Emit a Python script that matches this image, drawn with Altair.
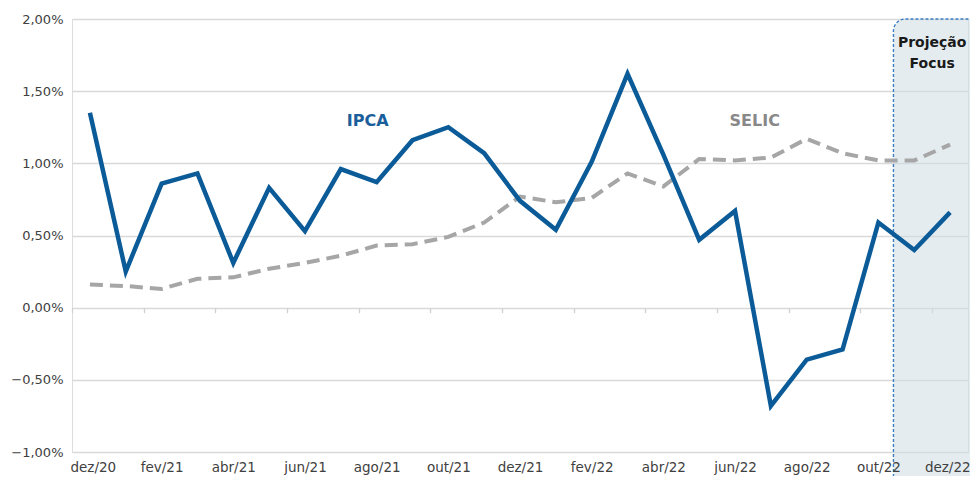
import altair as alt
import pandas as pd

months = ["dez/20", "jan/21", "fev/21", "mar/21", "abr/21", "mai/21", "jun/21",
          "jul/21", "ago/21", "set/21", "out/21", "nov/21", "dez/21", "jan/22",
          "fev/22", "mar/22", "abr/22", "mai/22", "jun/22", "jul/22", "ago/22",
          "set/22", "out/22", "nov/22", "dez/22"]
ipca = [1.35, 0.25, 0.86, 0.93, 0.31, 0.83, 0.53, 0.96, 0.87, 1.16, 1.25, 1.07,
        0.74, 0.54, 1.01, 1.62, 1.06, 0.47, 0.67, -0.68, -0.36, -0.29, 0.59,
        0.40, 0.66]
selic = [0.16, 0.15, 0.13, 0.20, 0.21, 0.27, 0.31, 0.36, 0.43, 0.44, 0.49, 0.59,
         0.77, 0.73, 0.76, 0.93, 0.84, 1.03, 1.02, 1.04, 1.17, 1.07, 1.02,
         1.02, 1.13]
y_ticks = [-1.0, -0.5, 0.0, 0.5, 1.0, 1.5, 2.0]

W, H = 896, 433

df = pd.DataFrame({"i": list(range(len(months))), "m": months,
                   "ipca": ipca, "selic": selic})
df_ipca = df.rename(columns={"ipca": "v"})
df_selic = df.rename(columns={"selic": "v"})

xscale = alt.Scale(domain=[-0.5, len(months) - 0.5], nice=False, zero=False)
yscale = alt.Scale(domain=[-1.0, 2.0], nice=False, zero=False)

yaxis = alt.Axis(values=y_ticks, grid=True, gridColor="#d9d9d9", gridWidth=1.3,
                 ticks=False, domain=False, title=None, labelPadding=9,
                 labelFontSize=13, labelColor="#404040", labelFont="DejaVu Sans",
                 labelExpr="replace(format(datum.value, '.2f'), '.', ',') + '%'")

label_js = "[" + ",".join("'%s'" % m for m in months) + "][datum.value]"
xaxis_labels = alt.Axis(orient="bottom", values=list(range(0, len(months), 2)),
                        labelExpr=label_js, zindex=2,
                        ticks=False, grid=False, domain=False, title=None,
                        labelFlush=20, labelFlushOffset=20,
                        labelPadding=8, labelFontSize=13.5,
                        labelColor="#404040", labelFont="DejaVu Sans",
                        labelOverlap=False)
xaxis_ticks = alt.Axis(orient="bottom",
                       values=[i - 0.5 for i in range(0, len(months), 2)],
                       labels=False, ticks=True, tickSize=5, tickColor="#d0d0d0",
                       tickWidth=1.3, grid=False, domain=False, title=None,
                       offset=-H / 3.0)

# projection box (Focus) from the boundary between out/22 and nov/22
box = pd.DataFrame({"x": [len(months) - 2.58], "x2": [len(months) - 0.1],
                    "v": [2.0], "v2": [-1.25]})
box_layer = alt.Chart(box).mark_rect(
    cornerRadius=12, fill="#cedce4", fillOpacity=0.55, stroke="#3a7dc0",
    strokeWidth=1.4, strokeDash=[3, 2], clip=False
).encode(
    x=alt.X("x:Q", scale=xscale, axis=xaxis_ticks),
    x2="x2:Q",
    y=alt.Y("v:Q", scale=yscale, axis=yaxis),
    y2="v2:Q",
)

selic_layer = alt.Chart(df_selic).mark_line(
    color="#a6a6a6", strokeWidth=4, strokeDash=[13, 7]
).encode(
    x=alt.X("i:Q", scale=xscale, axis=None),
    y=alt.Y("v:Q", scale=yscale, axis=yaxis),
)

ipca_layer = alt.Chart(df_ipca).mark_line(
    color="#0b5b98", strokeWidth=4.5
).encode(
    x=alt.X("i:Q", scale=xscale, axis=xaxis_labels),
    y=alt.Y("v:Q", scale=yscale, axis=yaxis),
)

ann = pd.DataFrame({
    "t": ["IPCA", "SELIC"],
    "x": [7.75, 18.55],
    "v": [1.29, 1.29],
    "c": ["#1b5e9c", "#888888"],
})
ann_layer = alt.Chart(ann).mark_text(
    font="DejaVu Sans", fontWeight="bold", fontSize=16, baseline="middle",
    align="center"
).encode(
    x=alt.X("x:Q", scale=xscale, axis=None),
    y=alt.Y("v:Q", scale=yscale, axis=yaxis),
    text="t:N",
    color=alt.Color("c:N", scale=None),
)

focus = pd.DataFrame({"t": [["Projeção", "Focus"]], "x": [23.5], "v": [1.835]})
focus_layer = alt.Chart(focus).mark_text(
    font="DejaVu Sans", fontWeight="bold", fontSize=14, lineHeight=21,
    baseline="middle", align="center", color="#1a1a1a", clip=False
).encode(
    x=alt.X("x:Q", scale=xscale, axis=None),
    y=alt.Y("v:Q", scale=yscale, axis=yaxis),
    text="t",
)

chart = alt.layer(
    box_layer, selic_layer, ipca_layer, ann_layer, focus_layer
).resolve_axis(x="independent").properties(
    width=W, height=H,
    autosize=alt.AutoSizeParams(type="none"),
    padding={"left": 64, "top": 11, "right": 2, "bottom": 24},
).configure_view(stroke=None).configure(font="DejaVu Sans")

chart.save("out.html", embed_options={"renderer": "svg", "actions": False})
